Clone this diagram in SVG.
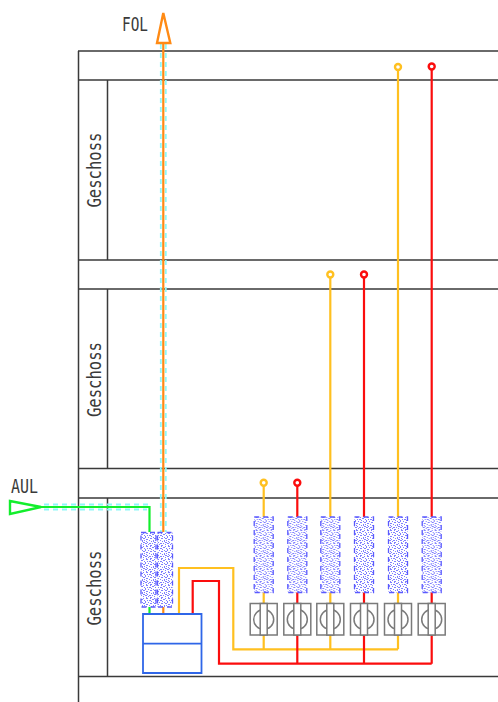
<svg xmlns="http://www.w3.org/2000/svg" width="498" height="702" viewBox="0 0 498 702">
<style>
.f{fill:none;stroke:#3a3a3a;stroke-width:1.5}
.w{fill:none;stroke-width:2.2;stroke-linejoin:miter}
.y{stroke:#ffc020}
.r{stroke:#fb0d0d}
.g{stroke:#12ee2c}
.o{stroke:#ff8a14}
.c{fill:none;stroke:#8ff8f8;stroke-width:1.8;stroke-dasharray:5 4}
.t{font-family:"DejaVu Sans Mono",monospace;font-size:20px;fill:#3a3a3a}
.e{fill:#fff;stroke-width:2.4}
.s{fill:none;stroke:#7a7a7a;stroke-width:1.5}
.b{fill:url(#n);stroke:#5a5aff;stroke-width:1.3;stroke-dasharray:5 4}
</style>
<defs>
<pattern id="n" width="11" height="13" patternUnits="userSpaceOnUse">
<rect width="11" height="13" fill="#fff"/>
<path fill="#6a6aff" fill-opacity=".85" d="M0 0h1v1H0zM3 0h2v1H3zM7 0h1v1H7zM9 1h2v1H9zM1 2h1v1H1zM4 2h1v1H4zM6 2h2v1H6zM2 3h1v2H2zM8 3h1v1H8zM5 4h1v1H5zM10 4h1v1h-1zM0 5h2v1H0zM7 5h2v1H7zM3 6h2v1H3zM1 7h1v1H1zM6 7h1v1H6zM10 7h1v2h-1zM3 8h1v1H3zM8 8h1v1H8zM0 9h2v1H0zM4 9h1v1H4zM9 10h1v1H9zM2 10h2v1H2zM6 10h2v1H6zM0 11h1v1H0zM5 11h1v1H5zM3 12h1v1H3zM7 12h2v1H7z"/>
</pattern>
<g id="sw">
<circle cx="0" cy="16" r="10" class="s"/>
<rect x="-13.500" y="0" width="27" height="31.500" class="s"/>
<rect x="-3.500" y="0" width="7" height="31.500" fill="#fff" stroke="#7a7a7a" stroke-width="1.5"/>
</g>
<rect id="bk" x="-9.500" y="0" width="19" height="75.500" class="b"/>
</defs>

<g id="building">
<path class="f" d="M78.500 51V702M78 51H498M78 80H498M78 260H498M78 289H498M78 468.500H498M78 498H498M78 676.500H498M107.500 80V260M107.500 289V468M107.500 498V676"/>
</g>

<g id="connectors">
<path class="c" d="M160.800 44V532M165.800 44V532M44 504.500H152M44 509.500H147"/>
<path class="w o" d="M163.300 44V532M163.300 607V614"/>
<path class="w g" d="M40 507H149.500V532M149.500 607V614"/>
<path class="w y" d="M179 614V568H233.300V649.300H398M263.700 486V517M263.700 592V603M263.700 635V649.300M330.300 277.500V517M330.300 592V603M330.300 635V649.300M398 70V517M398 592V603M398 635V649.300"/>
<path class="w r" d="M192.700 614V581H219V663.700H431.700M297.300 486V517M297.300 592V603M297.300 635V663.700M364 277.500V517M364 592V603M364 635V663.700M431.700 70V517M431.700 592V603M431.700 635V663.700"/>
</g>

<g id="fol"><polygon class="e o" points="163.300,13 157,43 170.300,43"/><text class="t" x="122" y="31" textLength="26" lengthAdjust="spacingAndGlyphs">FOL</text></g>
<g id="aul"><polygon class="e g" points="10,501 10,514 41,507"/><text class="t" x="11" y="493" textLength="27" lengthAdjust="spacingAndGlyphs">AUL</text></g>

<g id="g1"><text class="t" transform="translate(101 207.500) rotate(-90)" textLength="75" lengthAdjust="spacingAndGlyphs">Geschoss</text></g>
<g id="g2"><text class="t" transform="translate(101 417) rotate(-90)" textLength="75" lengthAdjust="spacingAndGlyphs">Geschoss</text></g>
<g id="g3"><text class="t" transform="translate(101 625.500) rotate(-90)" textLength="75" lengthAdjust="spacingAndGlyphs">Geschoss</text></g>

<g id="main-filter">
<rect x="141" y="532.500" width="15" height="74.500" class="b"/>
<rect x="157.500" y="532.500" width="15" height="74.500" class="b"/>
</g>
<g id="unit"><path fill="#fff" stroke="#2f66e8" stroke-width="1.8" d="M143 614H201.500V673H143ZM143 643.700H201.500"/></g>

<g id="col1"><use href="#bk" x="263.700" y="517"/><use href="#sw" x="263.700" y="603.500"/><circle class="e y" cx="263.700" cy="482.700" r="3"/></g>
<g id="col2"><use href="#bk" x="297.300" y="517"/><use href="#sw" x="297.300" y="603.500"/><circle class="e r" cx="297.300" cy="482.700" r="3"/></g>
<g id="col3"><use href="#bk" x="330.300" y="517"/><use href="#sw" x="330.300" y="603.500"/><circle class="e y" cx="330.300" cy="274.500" r="3"/></g>
<g id="col4"><use href="#bk" x="364" y="517"/><use href="#sw" x="364" y="603.500"/><circle class="e r" cx="364" cy="274.500" r="3"/></g>
<g id="col5"><use href="#bk" x="398" y="517"/><use href="#sw" x="398" y="603.500"/><circle class="e y" cx="398" cy="67" r="3"/></g>
<g id="col6"><use href="#bk" x="431.700" y="517"/><use href="#sw" x="431.700" y="603.500"/><circle class="e r" cx="431.700" cy="66.500" r="3"/></g>
</svg>
